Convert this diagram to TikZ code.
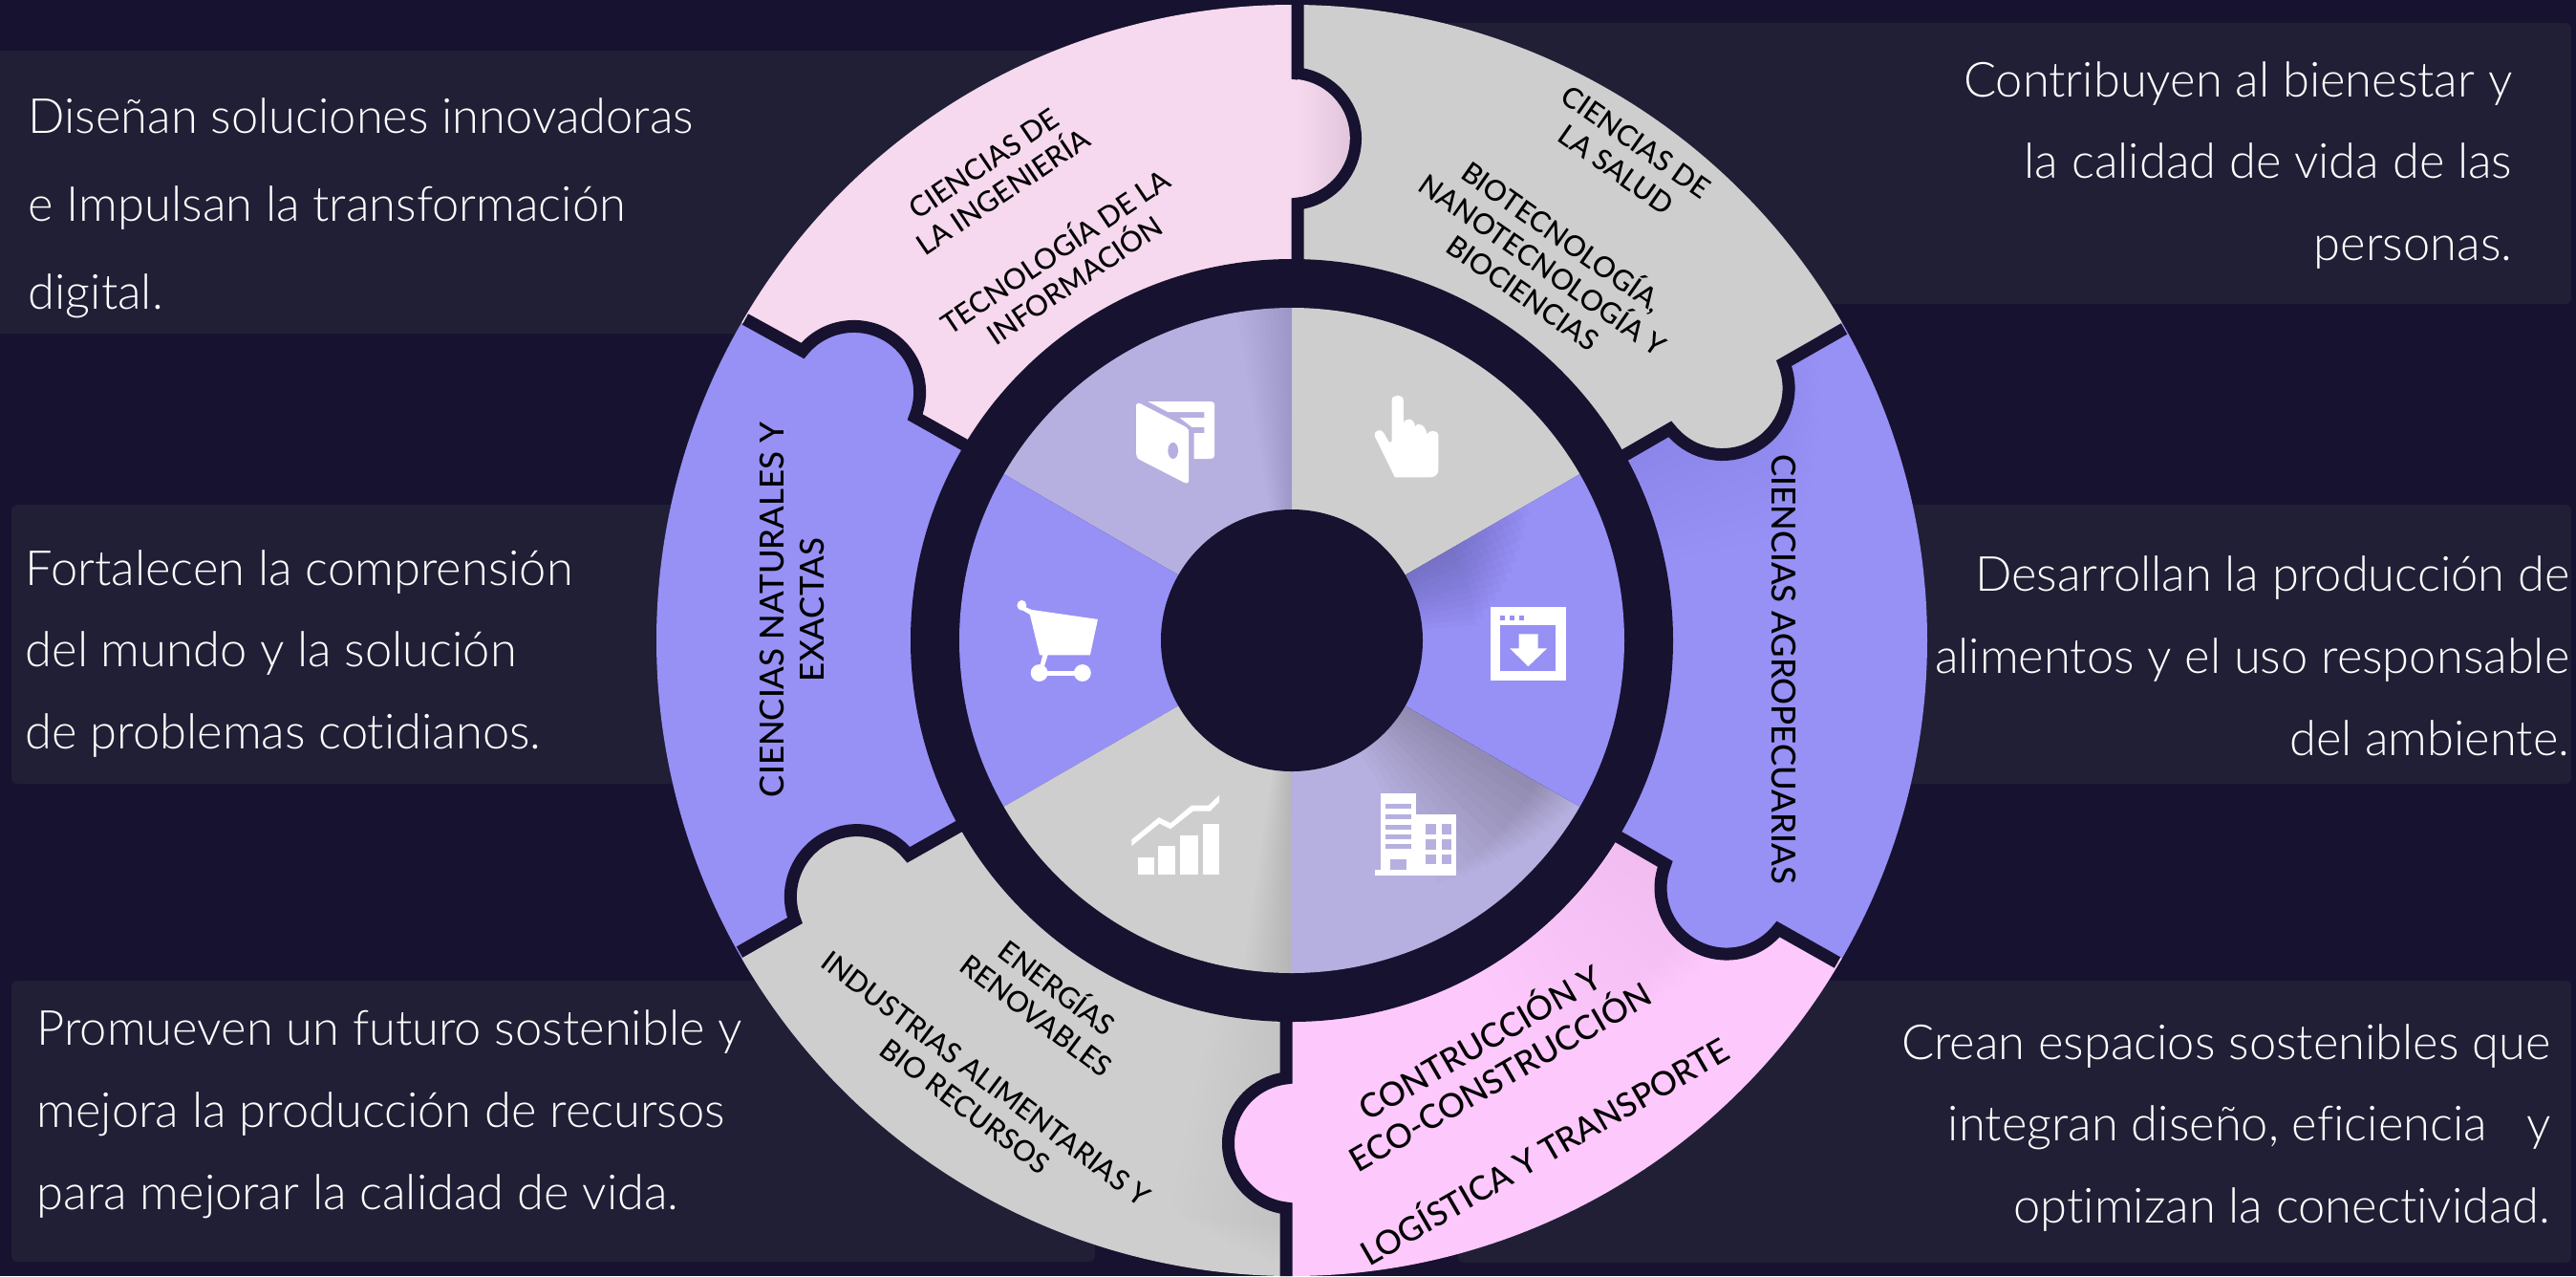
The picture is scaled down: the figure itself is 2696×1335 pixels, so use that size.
\documentclass[tikz,border=0pt]{standalone}
\usepackage{fontspec}
\setmainfont{Lato}
\newfontfamily\lightfont[Ligatures=NoCommon]{Lato Light}
\newfontfamily\mediumfont{Lato Medium}
\definecolor{fondo}{HTML}{17122F}
\definecolor{panelc}{HTML}{201F36}
\definecolor{lila}{HTML}{9790F5}
\definecolor{lavanda}{HTML}{B6B0E0}
\definecolor{gris}{HTML}{CFCECF}
\definecolor{rosa}{HTML}{F6D9EE}
\definecolor{rosaosc}{HTML}{DFC4DB}
\definecolor{fucsia}{HTML}{FDC8FB}
\newcommand\piezatab[3]{\path (C) ++(#3:530) coordinate (interior); \fill[#1] #2 -- (interior) -- cycle; \draw[ranura] #2;}
\newcommand\sombra[6]{\foreach \i in {1,...,12} {
  \fill[black,opacity=#6] (C) ++(#1:#3) arc[start angle=#1,end angle=#1+\i*#2,radius=#3]
    -- ++(#1+\i*#2:#4-#3-\i*#5) arc[start angle=#1+\i*#2,end angle=#1,radius=#4-\i*#5] -- cycle;}}
\begin{document}
\begin{tikzpicture}[x=0.01cm,y=0.01cm]
\tikzset{panel/.style={fill=panelc, rounded corners=0.06cm},
  textpanel/.style={text=white, inner sep=0pt, font=\lightfont\fontsize{14.4}{24.4}\selectfont},
  ranura/.style={draw=fondo, line width=0.13cm},
  textaro/.style={text=black, align=center, font=\mediumfont\fontsize{8.5}{10.2}\selectfont},
  textgrande/.style={textaro, font=\mediumfont\fontsize{9.9}{11.8}\selectfont},
  icono/.style={fill=white}}
\useasboundingbox (0,-1335) rectangle (2696,0);
\fill[fondo] (0,-1335) rectangle (2696,0);
\fill[panel] (-20,-53) rectangle (1250,-349);
\fill[panel] (1450,-24) rectangle (2691,-318);
\fill[panel] (12,-528) rectangle (850,-820);
\fill[panel] (1850,-528) rectangle (2691,-820);
\fill[panel] (12,-1026) rectangle (1146,-1320);
\fill[panel] (1526,-1026) rectangle (2691,-1321);
\node[textpanel, anchor=west, align=left] (T1) at (29,-218) {Diseñan soluciones innovadoras\\[1.8pt] e Impulsan la transformación\\[1.8pt] digital.};
\node[textpanel, anchor=east, align=right] (T2) at (2630,-173) {Contribuyen al bienestar y\\la calidad de vida de las\\personas.};
\node[textpanel, anchor=west, align=left] (T3) at (26,-684) {Fortalecen la comprensión\\del mundo y la solución\\de problemas cotidianos.};
\node[textpanel, anchor=east, align=right] (T4) at (2690,-686) {Desarrollan la producción de\\alimentos y el uso responsable\\del ambiente.};
\node[textpanel, anchor=west, align=left] (T5) at (38,-1166) {Promueven un futuro sostenible y\\mejora la producción de recursos\\para mejorar la calidad de vida.};
\node[textpanel, anchor=east, align=right] (T6) at (2670,-1180) {Crean espacios sostenibles que\\integran diseño, eficiencia\ \ \ y\\optimizan la conectividad.};
\coordinate (C) at (1352,-670);
% aro exterior
\foreach \a/\b/\c in {30/90/gris, 90/150/rosa, 150/210/lila, 210/270/gris, 270/330/fucsia, 330/390/lila}
  \fill[\c] (C) -- ++(\a:665) arc[start angle=\a, end angle=\b, radius=665] -- cycle;
\sombra{330}{-2.5}{400}{570}{5}{0.004}
\sombra{30}{-1.5}{400}{640}{8}{0.004}
\sombra{270}{-1}{400}{660}{4}{0.004}
\piezatab{rosa}{(1358,-5) -- (1358,-77) arc[start angle=83.3, end angle=-83.3, radius=68.5] -- (1358,-285)}{93}
\shade[left color=rosa, right color=rosaosc] (1358,-83) arc[start angle=83.3, end angle=-83.3, radius=62] -- cycle;
\piezatab{gris}{(1930,-344) -- (1867,-380) arc[start angle=22, end angle=-142, radius=69.5] -- (1680,-488)}{33}
\piezatab{lila}{(1923,-1007) -- (1861,-972) arc[start angle=-38.5, end angle=-201.4, radius=69] -- (1674,-864)}{-27}
\piezatab{fucsia}{(1346,-1335) -- (1346,-1264) arc[start angle=263.3, end angle=96.7, radius=68.5] -- (1346,-1055)}{273}
\piezatab{gris}{(774,-996) -- (832,-963) arc[start angle=201, end angle=39, radius=69.5] -- (1024,-853)}{213}
\piezatab{lila}{(780,-334) -- (840,-367) arc[start angle=141, end angle=-22, radius=69] -- (1030,-477)}{153}
% aro oscuro y ruleta interior
\fill[fondo] (C) circle[radius=399];
\foreach \a/\b/\c in {30/90/gris, 90/150/lavanda, 150/210/lila, 210/270/gris, 270/330/lavanda, 330/390/lila}
  \fill[\c] (C) -- ++(\a:348) arc[start angle=\a, end angle=\b, radius=348] -- cycle;
\sombra{30}{-2.1}{137}{290}{8}{0.014}
\sombra{330}{-2.4}{137}{345}{4}{0.014}
\sombra{90}{0.8}{137}{348}{0}{0.006}
\sombra{270}{-0.7}{137}{348}{0}{0.009}
\fill[fondo] (C) circle[radius=137];
% iconos, medidos en su propia malla
\begin{scope}[shift={(1000,-380)}, x=0.004464cm, y=-0.003571cm]
% cartera
\fill[icono] (423,122) .. controls (423,116) and (428,116) .. (432,118) -- (538,186) .. controls (544,190) and (546,196) .. (546,202) -- (546,346) .. controls (546,352) and (540,352) .. (536,350) -- (430,282) .. controls (425,278) and (423,274) .. (423,266) -- cycle;
\fill[lavanda] (509,256) circle[x radius=12, y radius=24];
\fill[icono] (450,112) -- (598,112) .. controls (604,112) and (606,116) .. (606,122) -- (606,270) .. controls (606,277) and (602,280) .. (596,280) -- (558,280) -- (558,205) -- (582,205) -- (582,187) -- (553,187) -- (525,160) -- (582,160) -- (582,143) -- (497,143) -- cycle;
% mano
\fill[icono] (1021,108) .. controls (1021,90) and (1048,90) .. (1048,108) -- (1048,178) .. controls (1050,158) and (1074,158) .. (1075,185) .. controls (1080,172) and (1100,178) .. (1103,208) .. controls (1106,195) and (1130,195) .. (1130,210) -- (1130,310) .. controls (1130,326) and (1122,334) .. (1110,334) -- (1028,334) -- (981,214) .. controls (978,196) and (996,190) .. (1002,204) -- (1014,230) .. controls (1017,234) and (1021,232) .. (1021,226) -- cycle;
% carrito
\fill[icono] (155,709) circle[x radius=11, y radius=15];
\fill[icono] (160,712) -- (178,722) -- (333,750) -- (315,855) -- (216,855) -- (206,895) -- (196,895) -- (204,855) -- (197,855) -- (174,736) -- (155,722) -- cycle;
\fill[icono] (196,907) circle[x radius=20, y radius=25];
\fill[icono] (297,907) circle[x radius=20, y radius=25];
\fill[icono] (196,901) rectangle (297,914);
% ventana de descarga
\fill[icono] (1252,713) rectangle (1428,930);
\fill[lila] (1275,768) rectangle (1405,902);
\foreach \d in {1275,1297,1319} \fill[lila] (\d,738) rectangle (\d+11,754);
\fill[icono] (1318,793) -- (1363,793) -- (1363,835) -- (1384,835) -- (1340,888) -- (1297,835) -- (1318,835) -- cycle;
% edificio
\fill[icono] (994,1260) rectangle (1077,1500);
\fill[icono] (1077,1322) rectangle (1172,1500);
\fill[icono] (982,1484) rectangle (994,1500);
\foreach \d in {1291,1322,1351,1380,1409} \fill[lavanda] (1007,\d) rectangle (1066,\d+14);
\fill[lavanda] (1018,1453) rectangle (1055,1483);
\foreach \d/\e in {1350/1380,1394/1424,1440/1468} {
  \fill[lavanda] (1101,\d) rectangle (1125,\e);
  \fill[lavanda] (1137,\d) rectangle (1161,\e);}
% grafica
\foreach \d/\e/\f in {426/466/1448,475/515/1414,526/567/1383,578/618/1350} \fill[icono] (\d,\f) rectangle (\e,1498);
\fill[icono] (412,1395) -- (476,1330) -- (503,1347) -- (552,1295) -- (592,1295) -- (617,1265) -- (617,1285) -- (596,1312) -- (556,1312) -- (503,1364) -- (477,1348) -- (412,1414) -- cycle;
\end{scope}
% textos del aro
\node[textaro, rotate=34] (A1) at (1040,-186) {CIENCIAS DE\\LA INGENIERÍA};
\node[textaro, rotate=34] (A2) at (1113,-276) {TECNOLOGÍA DE LA\\INFORMACIÓN};
\node[textaro, rotate=-35] (A3) at (1702,-163) {CIENCIAS DE\\LA SALUD};
\node[textaro, rotate=-35] (A4) at (1616,-275) {BIOTECNOLOGÍA,\\NANOTECNOLOGÍA Y\\BIOCIENCIAS};
\node[textgrande, rotate=-90] (A5) at (1867,-700) {CIENCIAS AGROPECUARIAS};
\node[textgrande, rotate=90] (A6) at (829,-638) {CIENCIAS NATURALES Y\\EXACTAS};
\node[textaro, rotate=-37] (A7) at (1097,-1046) {ENERGÍAS\\RENOVABLES};
\node[textaro, rotate=-37] (A8) at (1021,-1143) {INDUSTRIAS ALIMENTARIAS Y\\BIO RECURSOS};
\node[textgrande, rotate=30] (A9) at (1558,-1106) {CONTRUCCIÓN Y\\ECO-CONSTRUCCIÓN};
\node[textgrande, rotate=30] (A10) at (1615,-1202) {LOGÍSTICA Y TRANSPORTE};
\end{tikzpicture}
\end{document}
